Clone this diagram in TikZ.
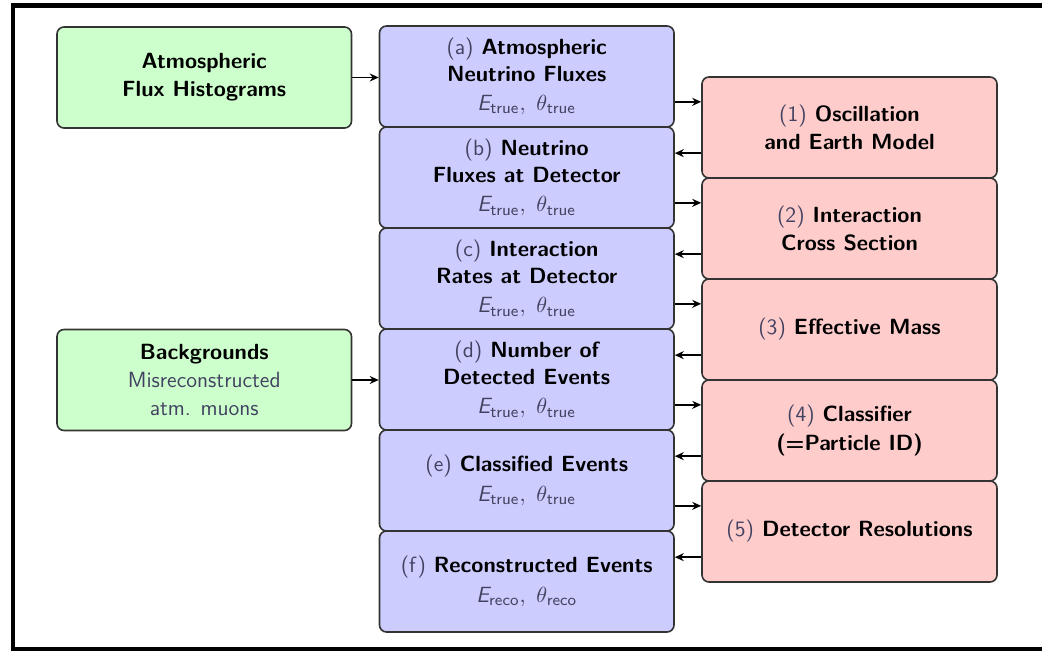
\documentclass[tikz,border=0pt]{standalone}
\usepackage{amsmath}
\usetikzlibrary{arrows.meta,calc}
\definecolor{greenbox}{RGB}{204,255,204}
\definecolor{bluebox}{RGB}{204,204,255}
\definecolor{redbox}{RGB}{255,204,204}
\definecolor{tagtext}{RGB}{66,66,96}
% light-weight grey text for tags and variables
\newcommand{\tg}[1]{{\mdseries\color{tagtext}#1}}
\newcommand{\vars}[2]{{\mdseries\color{tagtext}$\text{\sffamily\itshape E}_{\mathsf{#1}},\ \theta_{\mathsf{#2}}$}}
\begin{document}
\begin{tikzpicture}[x=0.5pt,y=-0.5pt,
  box/.style={draw=black!80, line width=0.8pt, rounded corners=3.5pt,
    minimum width=147.25pt, minimum height=50.5pt, inner sep=0pt, align=center,
    font=\sffamily\bfseries\fontsize{11}{14}\selectfont},
  inbox/.style={box, fill=greenbox},
  stagebox/.style={box, fill=bluebox, font=\sffamily\bfseries\fontsize{11}{13.3}\selectfont},
  effbox/.style={box, fill=redbox, minimum width=147.5pt},
  arr/.style={-{Stealth[length=4.5pt,width=4pt]}, line width=0.7pt, black}]
\useasboundingbox (0,0) rectangle (1042,651);
% outer frame
\draw[line width=2.4pt, line join=miter] (1042,5.8) -- (13,5.8) -- (13,649.5) -- (1042,649.5);

% inputs
\node[inbox] (g1) at (204.25,77.5) {Atmospheric\\Flux Histograms};
\node[inbox] (g2) at (204.25,380) {Backgrounds\\\tg{Misreconstructed}\\\tg{atm. muons}};

% processing stages
\node[stagebox] (a) at (526.75,76.5)  {\tg{(a)} Atmospheric\\Neutrino Fluxes\\[1.5pt]\vars{true}{true}};
\node[stagebox] (b) at (526.75,177.5) {\tg{(b)} Neutrino\\Fluxes at Detector\\[1.5pt]\vars{true}{true}};
\node[stagebox] (c) at (526.75,278.5) {\tg{(c)} Interaction\\Rates at Detector\\[1.5pt]\vars{true}{true}};
\node[stagebox] (d) at (526.75,379.5) {\tg{(d)} Number of\\Detected Events\\[1.5pt]\vars{true}{true}};
\node[stagebox] (e) at (526.75,480.5) {\tg{(e)} Classified Events\\[1.5pt]\vars{true}{true}};
\node[stagebox] (f) at (526.75,581.5) {\tg{(f)} Reconstructed Events\\[1.5pt]\vars{reco}{reco}};

% detector / physics effects
\node[effbox] (r1) at (849.5,127.5) {\tg{(1)} Oscillation\\and Earth Model};
\node[effbox] (r2) at (849.5,228.5) {\tg{(2)} Interaction\\Cross Section};
\node[effbox] (r3) at (849.5,329.5) {\tg{(3)} Effective Mass};
\node[effbox] (r4) at (849.5,430.5) {\tg{(4)} Classifier\\(=Particle ID)};
\node[effbox] (r5) at (849.5,531.5) {\tg{(5)} Detector Resolutions};

% inputs feed the stages
\draw[arr] (g1.east) -- (g1.east -| a.west);
\draw[arr] (g2.east) -- (g2.east -| d.west);

% each effect takes one stage and returns the next
\foreach \r/\src/\dst in {r1/a/b, r2/b/c, r3/c/d, r4/d/e, r5/e/f} {
  \coordinate (\r in)  at ($(\r.north west)!0.25!(\r.south west)$);
  \coordinate (\r out) at ($(\r.north west)!0.75!(\r.south west)$);
  \draw[arr] (\src.east |- \r in) -- (\r in);
  \draw[arr] (\r out) -- (\dst.east |- \r out);
}
\end{tikzpicture}
\end{document}
